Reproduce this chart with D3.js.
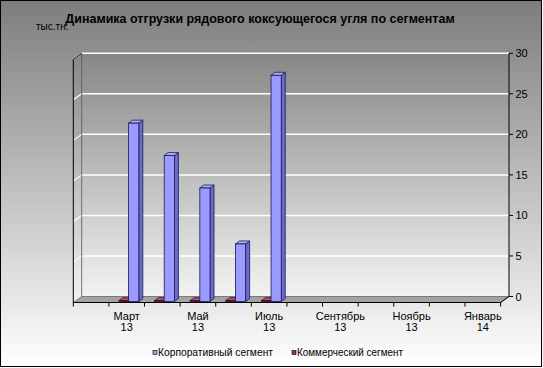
<!DOCTYPE html>
<html><head><meta charset="utf-8">
<script src="https://cdn.jsdelivr.net/npm/d3@7"></script>
<style>body{margin:0;background:#fff}svg{display:block;font-family:"Liberation Sans",Arial,sans-serif}</style>
</head><body>
<script>
const categories = ["Февраль 13","Март 13","Апрель 13","Май 13","Июнь 13","Июль 13","Август 13","Сентябрь 13","Октябрь 13","Ноябрь 13","Декабрь 13","Январь 14"];
const corporate = [null,22.0,18.0,14.0,7.1,27.9,null,null,null,null,null,null];
const commercial = [null,0.1,0.1,0.1,0.1,0.1,null,null,null,null,null,null];
const seriesNames = ["Корпоративный сегмент","Коммерческий сегмент"];
const yTicks = [0,5,10,15,20,25,30];
const title = "Динамика отгрузки рядового коксующегося угля по сегментам";
const unitLabel = "тыс.тн.";

const W=543,H=368;
const svg=d3.select("body").append("svg").attr("width",W).attr("height",H);
const defs=svg.append("defs");
const bg=defs.append("linearGradient").attr("id","bg").attr("x1",0).attr("y1",0).attr("x2",0).attr("y2",1);
bg.append("stop").attr("offset","0%").attr("stop-color","#7d7d7d");
bg.append("stop").attr("offset","100%").attr("stop-color","#ffffff");
const wg=defs.append("linearGradient").attr("id","wall").attr("x1",0).attr("y1",0).attr("x2",0).attr("y2",1);
wg.append("stop").attr("offset","0%").attr("stop-color","#878787");
wg.append("stop").attr("offset","100%").attr("stop-color","#f3f3f3");

svg.append("rect").attr("x",0.5).attr("y",0.5).attr("width",541).attr("height",366)
  .attr("fill","url(#bg)").attr("stroke","#000").attr("stroke-width",1);

// geometry
const backL=81.7, backR=509, DX=-8.4, DY=6;
const x=d3.scaleBand().domain(categories).range([backL,backR]);
const y=d3.scaleLinear().domain([0,30]).range([296.5,53.3]);
const pts=a=>a.map(p=>p.join(",")).join(" ");

// back wall
svg.append("rect").attr("x",backL).attr("y",y(30)).attr("width",backR-backL).attr("height",y(0)-y(30)).attr("fill","url(#wall)");
// left wall
svg.append("polygon").attr("points",pts([[backL,y(30)],[backL,y(0)],[backL+DX,y(0)+DY],[backL+DX,y(30)+DY]]))
  .attr("fill","url(#wall)");
// gridlines
yTicks.filter(t=>t>0).forEach(t=>{
  svg.append("line").attr("x1",backL).attr("x2",backR).attr("y1",y(t)).attr("y2",y(t)).attr("stroke","#fff").attr("stroke-width",1.5);
  svg.append("line").attr("x1",backL).attr("x2",backL+DX).attr("y1",y(t)).attr("y2",y(t)+DY).attr("stroke","#fff").attr("stroke-width",1.2);
});
svg.append("line").attr("x1",backL).attr("x2",backL).attr("y1",y(30)).attr("y2",y(0)).attr("stroke","#555").attr("stroke-width",0.8);
// floor
svg.append("polygon").attr("points",pts([[backL,y(0)],[backR,y(0)],[backR+DX,y(0)+DY],[backL+DX,y(0)+DY]]))
  .attr("fill","#a3a3a3").attr("stroke","#666").attr("stroke-width",0.8);
// left wall edges
svg.append("polyline").attr("points",pts([[backL,y(30)],[backL+DX,y(30)+DY],[backL+DX,y(0)+DY]]))
  .attr("fill","none").attr("stroke","#000").attr("stroke-width",1);

// bars
const FX=-7, FY=5, BDX=4, BDY=-3;
const styles=[
  {front:"#9a9aff",side:"#6a6ad0",top:"#aeaeff",stroke:"#1a1a50"},
  {front:"#993366",side:"#6e2249",top:"#b0507f",stroke:"#3a0a20"}
];
const bw=10.2, offs=[18.3,8.6]; // corporate, commercial offsets within band
const g=svg.append("g");
categories.forEach((c,i)=>{
  [[1,commercial],[0,corporate]].forEach(([si,arr])=>{
    const v=arr[i]; if(v==null) return;
    const s=styles[si];
    const x0=x(c)+FX+offs[si], yb=y(0)+FY, yt=y(v)+FY, x1=x0+bw;
    g.append("polygon").attr("points",pts([[x1,yt],[x1+BDX,yt+BDY],[x1+BDX,yb+BDY],[x1,yb]]))
      .attr("fill",s.side).attr("stroke",s.stroke).attr("stroke-width",0.8);
    g.append("polygon").attr("points",pts([[x0,yt],[x1,yt],[x1+BDX,yt+BDY],[x0+BDX,yt+BDY]]))
      .attr("fill",s.top).attr("stroke",s.stroke).attr("stroke-width",0.8);
    g.append("rect").attr("x",x0).attr("y",yt).attr("width",bw).attr("height",yb-yt)
      .attr("fill",s.front).attr("stroke",s.stroke).attr("stroke-width",0.8);
  });
});

// right axis
const ax=svg.append("g");
ax.append("polyline").attr("points",pts([[backR,y(30)],[backR,y(0)],[backR+DX,y(0)+DY]]))
  .attr("fill","none").attr("stroke","#000").attr("stroke-width",1);
yTicks.forEach(t=>{
  ax.append("line").attr("x1",backR).attr("x2",backR+4).attr("y1",y(t)).attr("y2",y(t)).attr("stroke","#000");
  ax.append("text").attr("x",515.5).attr("y",y(t)+4).attr("font-size",11).attr("fill","#000").text(t);
});
// x axis front
const fy=y(0)+DY;
ax.append("line").attr("x1",backL+DX).attr("x2",backR+DX).attr("y1",fy).attr("y2",fy).attr("stroke","#000");
categories.forEach((c,i)=>{
  const xx=x(c)+DX;
  ax.append("line").attr("x1",xx).attr("x2",xx).attr("y1",fy).attr("y2",fy+4).attr("stroke","#000");
  if(i%2===1){
    const parts=c.split(" ");
    const t=ax.append("text").attr("text-anchor","middle").attr("font-size",11).attr("fill","#000");
    t.append("tspan").attr("x",xx+x.bandwidth()/2).attr("y",320).text(parts[0]);
    t.append("tspan").attr("x",xx+x.bandwidth()/2).attr("y",330.5).text(parts[1]);
  }
});
ax.append("line").attr("x1",backR+DX).attr("x2",backR+DX).attr("y1",fy).attr("y2",fy+4).attr("stroke","#000");

// title and unit
svg.append("text").attr("x",260).attr("y",23).attr("text-anchor","middle").attr("font-size",12.5).attr("font-weight","bold").text(title);
svg.append("text").attr("x",36).attr("y",30).attr("font-size",10).text(unitLabel);

// legend
const lg=svg.append("g");
const leg=[{x:153,tx:158,len:115},{x:292,tx:297,len:106}];
seriesNames.forEach((n,i)=>{
  lg.append("rect").attr("x",leg[i].x).attr("y",350.5).attr("width",4).attr("height",4)
    .attr("fill",styles[i].front).attr("stroke","#000").attr("stroke-width",0.6);
  lg.append("text").attr("x",leg[i].tx).attr("y",355.5).attr("font-size",10)
    .attr("textLength",leg[i].len).attr("lengthAdjust","spacingAndGlyphs").text(n);
});
</script>
</body></html>
